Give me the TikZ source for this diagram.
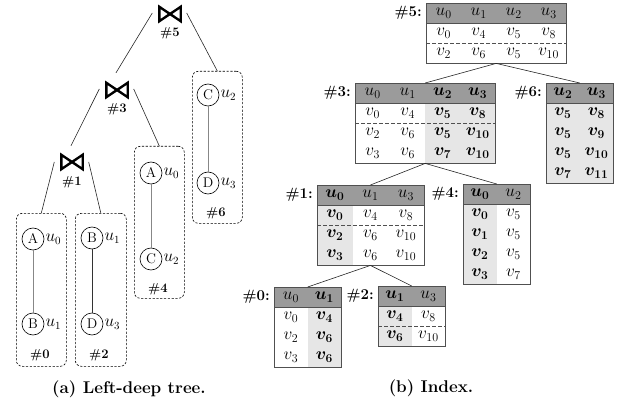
\documentclass[tikz,border=0pt]{standalone}
\usepackage{bm}
\usetikzlibrary{matrix,calc}

\definecolor{headgray}{RGB}{155,155,155}
\definecolor{cellshade}{RGB}{230,230,230}
\definecolor{rulecol}{RGB}{80,80,80}
\definecolor{edgegray}{RGB}{135,135,135}

\tikzset{
  % index tables
  idx/.style={matrix of math nodes, inner sep=0pt, column sep=0pt, row sep=0pt,
    anchor=north west,
    nodes={inner sep=0pt, minimum height=20pt, text height=9pt, text depth=4pt,
      anchor=center, font=\fontsize{16.5}{18}\selectfont},
    row 1/.style={nodes={fill=headgray}}},
  wide/.style={nodes={minimum width=35pt}},
  widest/.style={nodes={minimum width=35.5pt}},
  narrow/.style={nodes={minimum width=33.5pt}},
  hl/.style={column #1/.style={nodes={fill=cellshade}}},
  tabframe/.style={draw=rulecol, line width=0.8pt},
  headline/.style={draw=rulecol, line width=0.5pt},
  sepline/.style={draw=rulecol, dash pattern=on 4pt off 2pt, line width=0.7pt},
  link/.style={draw=black!85, line width=0.6pt},
  tag/.style={anchor=east, inner sep=0pt, font=\fontsize{15}{17}\selectfont\bfseries},
  % join tree
  jn/.style={minimum width=21pt, minimum height=14pt, inner sep=0pt},
  bow/.style={line width=2.4pt, line join=miter},
  jlab/.style={inner sep=0pt, font=\fontsize{13}{15}\selectfont\bfseries},
  grp/.style={draw, dash pattern=on 2.2pt off 1.6pt, rounded corners=6pt,
    line width=0.6pt, anchor=north west, inner sep=0pt},
  vx/.style={draw, circle, minimum size=22pt, inner sep=0pt, line width=0.6pt,
    font=\fontsize{14}{16}\selectfont},
  ulab/.style={anchor=west, inner sep=1pt, font=\fontsize{16}{18}\selectfont},
  gedge/.style={draw=edgegray, line width=1pt},
  dedge/.style={draw=black!80, line width=0.7pt},
  captext/.style={inner sep=0pt, font=\fontsize{17}{20}\selectfont\bfseries},
}

\begin{document}
\begin{tikzpicture}[x=1pt,y=-1pt]
\useasboundingbox (0,0) rectangle (618,406);

% ---------- (a) left-deep join tree ----------
\node[jn] (j5) at (170,14) {};
\node[jn] (j3) at (117,90) {};
\node[jn] (j1) at (72,162) {};
\foreach \j in {j5,j3,j1}
  \draw[bow] (\j.north west) -- (\j.south east) -- (\j.north east) -- (\j.south west) -- cycle;
\node[jlab] (n5) at (170,33) {\#5};
\node[jlab] (n3) at (117,109) {\#3};
\node[jlab] (n1) at (72,182) {\#1};

\node[grp, minimum width=50pt, minimum height=153pt] (b0) at (16,213) {};
\node[grp, minimum width=51pt, minimum height=153pt] (b2) at (75,213) {};
\node[grp, minimum width=50pt, minimum height=152pt] (b4) at (134,146) {};
\node[grp, minimum width=50pt, minimum height=152pt] (b6) at (192,71) {};

\draw[link] ($(j5.west)+(-7,-1)$) -- ($(j3.north)+(-1,-10)$);
\draw[link] ($(j5.east)+(6,-1)$) -- (b6.north);
\draw[link] ($(j3.west)+(-7,-1)$) -- ($(j1.north)+(-1,-9)$);
\draw[link] ($(j3.east)+(6,-1)$) -- (b4.north);
\draw[link] ($(j1.west)+(-7,0)$) -- (b0.north);
\draw[link] ($(j1.east)+(6,0)$) -- (b2.north);

% #0
\node[vx] (a0) at (33,239) {A};
\node[vx] (c0) at (33,324) {B};
\draw[gedge] (a0) -- (c0);
\node[ulab] (ua0) at (a0.east) {$u_0$};
\node[ulab] (uc0) at (c0.east) {$u_1$};
\node[jlab] (n0) at (40,355) {\#0};
% #2
\node[vx] (a2) at (92,238) {B};
\node[vx] (c2) at (92,324) {D};
\draw[dedge] (a2) -- (c2);
\node[ulab] (ua2) at (a2.east) {$u_1$};
\node[ulab] (uc2) at (c2.east) {$u_3$};
\node[jlab] (n2) at (99,355) {\#2};
% #4
\node[vx] (a4) at (151,173) {A};
\node[vx] (c4) at (151,259) {C};
\draw[gedge] (a4) -- (c4);
\node[ulab] (ua4) at (a4.east) {$u_0$};
\node[ulab] (uc4) at (c4.east) {$u_2$};
\node[jlab] (n4) at (158,289) {\#4};
% #6
\node[vx] (a6) at (208,95) {C};
\node[vx] (c6) at (208,183) {D};
\draw[gedge] (a6) -- (c6);
\node[ulab] (ua6) at (a6.east) {$u_2$};
\node[ulab] (uc6) at (c6.east) {$u_3$};
\node[jlab] (n6) at (216,213) {\#6};

\node[captext] (capa) at (129,389) {(a) Left-deep tree.};

% ---------- (b) index tables ----------
\matrix (t5) [idx, wide] at (426,3) {
  u_0 & u_1 & u_2 & u_3 \\
  v_0 & v_4 & v_5 & v_8 \\
  v_2 & v_6 & v_5 & v_{10} \\
};
\matrix (t3) [idx, wide, hl=3, hl=4] at (355,83) {
  u_0 & u_1 & \bm{u_2} & \bm{u_3} \\
  v_0 & v_4 & \bm{v_5} & \bm{v_8} \\
  v_2 & v_6 & \bm{v_5} & \bm{v_{10}} \\
  v_3 & v_6 & \bm{v_7} & \bm{v_{10}} \\
};
\matrix (t6) [idx, narrow, hl=1, hl=2] at (546,83) {
  \bm{u_2} & \bm{u_3} \\
  \bm{v_5} & \bm{v_8} \\
  \bm{v_5} & \bm{v_9} \\
  \bm{v_5} & \bm{v_{10}} \\
  \bm{v_7} & \bm{v_{11}} \\
};
\matrix (t1) [idx, widest, hl=1] at (317,185) {
  \bm{u_0} & u_1 & u_3 \\
  \bm{v_0} & v_4 & v_8 \\
  \bm{v_2} & v_6 & v_{10} \\
  \bm{v_3} & v_6 & v_{10} \\
};
\matrix (t4) [idx, narrow, hl=1] at (463,184) {
  \bm{u_0} & u_2 \\
  \bm{v_0} & v_5 \\
  \bm{v_1} & v_5 \\
  \bm{v_2} & v_5 \\
  \bm{v_3} & v_7 \\
};
\matrix (t0) [idx, narrow, hl=2] at (274,287) {
  u_0 & \bm{u_1} \\
  v_0 & \bm{v_4} \\
  v_2 & \bm{v_6} \\
  v_3 & \bm{v_6} \\
};
\matrix (t2) [idx, narrow, hl=1] at (378,286) {
  \bm{u_1} & u_3 \\
  \bm{v_4} & v_8 \\
  \bm{v_6} & v_{10} \\
};

% frames and header rules
\foreach \t/\c in {t5/4,t3/4,t6/2,t1/3,t4/2,t0/2,t2/2} {
  \draw[headline] (\t-1-1.south west) -- (\t-1-\c.south east);
  \draw[tabframe] (\t.north west) rectangle (\t.south east);
}
% dashed group separators
\foreach \t/\c in {t5/4,t3/4,t1/3,t2/2}
  \draw[sepline] (\t-2-1.south west) -- (\t-2-\c.south east);

% table labels
\node[tag] (l5) at ($(t5.north west)+(-4,10)$) {\#5:};
\node[tag] (l3) at ($(t3.north west)+(-4,10)$) {\#3:};
\node[tag] (l6) at ($(t6.north west)+(-4,10)$) {\#6:};
\node[tag] (l1) at ($(t1.north west)+(-4,10)$) {\#1:};
\node[tag] (l4) at ($(t4.north west)+(-4,10)$) {\#4:};
\node[tag] (l0) at ($(t0.north west)+(-4,10)$) {\#0:};
\node[tag] (l2) at ($(t2.north west)+(-4,10)$) {\#2:};

% parent-child links
\draw[link] (t5.south) -- (t3.north);
\draw[link] (t5.south) -- (t6.north);
\draw[link] (t3.south) -- (t1.north);
\draw[link] (t3.south) -- (t4.north);
\draw[link] (t1.south) -- (t0.north);
\draw[link] (t1.south) -- (t2.north);

\node[captext] (capb) at (431,388) {(b) Index.};
\end{tikzpicture}
\end{document}
